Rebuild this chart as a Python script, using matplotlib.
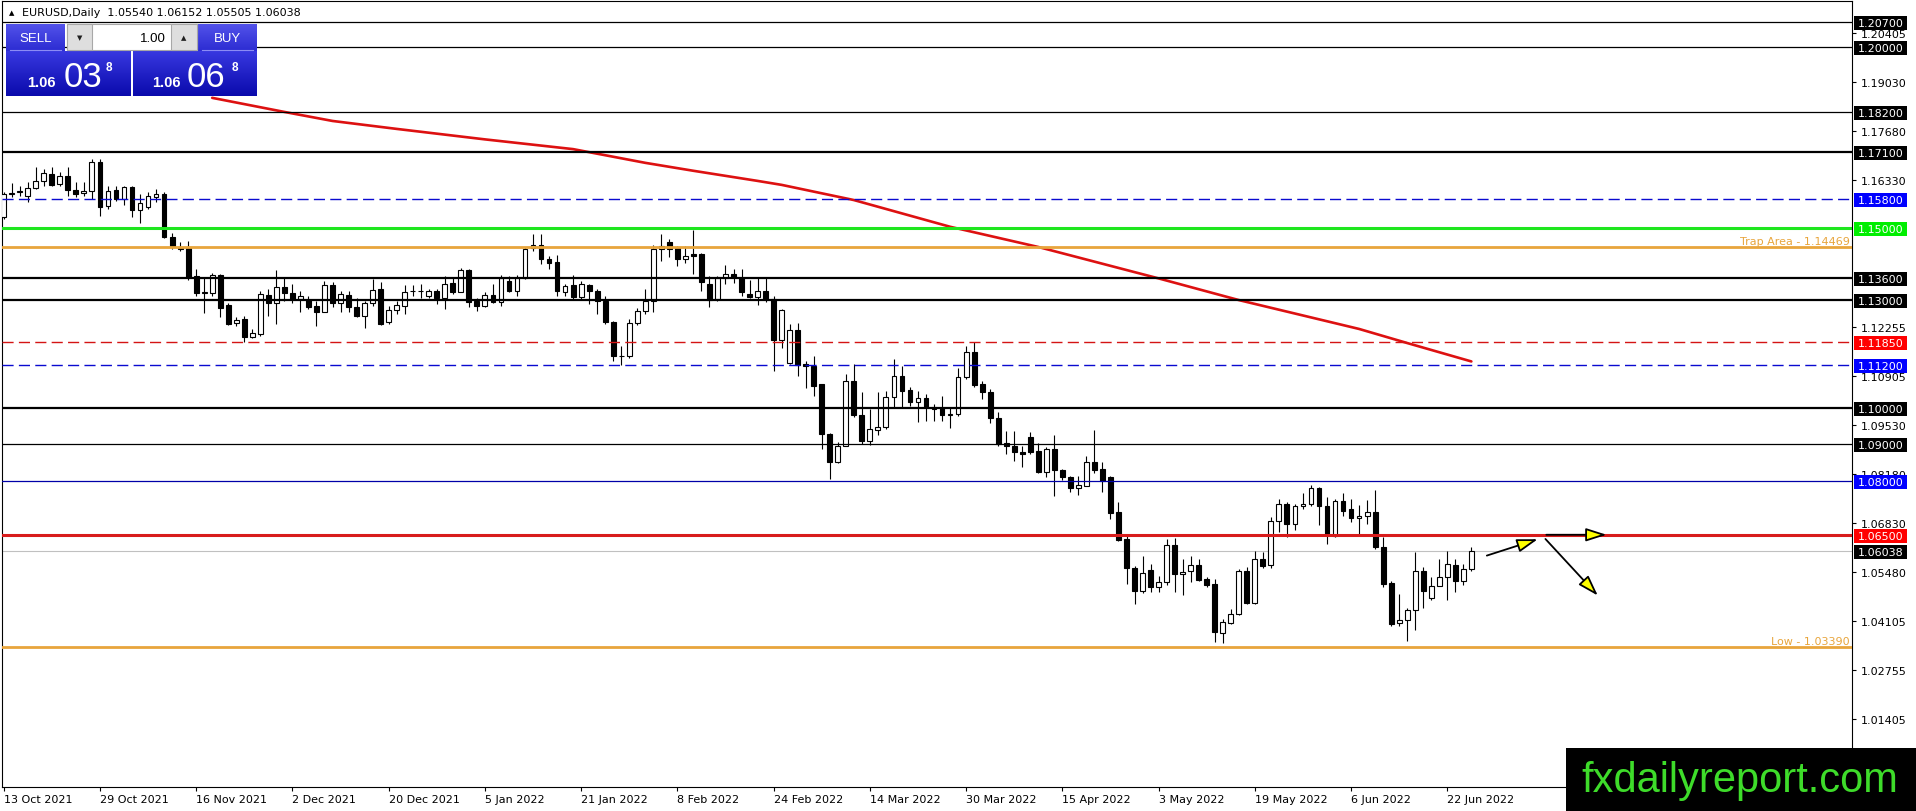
import numpy as np
import matplotlib
matplotlib.use("Agg")
import matplotlib.pyplot as plt
import matplotlib.colors as mcolors
from matplotlib.patches import Rectangle, FancyArrowPatch

# daily EURUSD candles, 13 Oct 2021 .. 27 Jun 2022
opens = [1.1529, 1.1594, 1.1598, 1.1589, 1.1609, 1.1631, 1.1649, 1.1621, 1.1643, 1.1606,
         1.1597, 1.1601, 1.1681, 1.1561, 1.1606, 1.1580, 1.1612, 1.1550, 1.1557, 1.1586,
         1.1593, 1.1476, 1.1446, 1.1446, 1.1366, 1.1320, 1.1320, 1.1369, 1.1286, 1.1236,
         1.1247, 1.1197, 1.1206, 1.1314, 1.1291, 1.1337, 1.1319, 1.1304, 1.1300, 1.1284,
         1.1268, 1.1342, 1.1292, 1.1314, 1.1282, 1.1257, 1.1292, 1.1330, 1.1240, 1.1273,
         1.1284, 1.1325, 1.1326, 1.1312, 1.1326, 1.1307, 1.1347, 1.1323, 1.1384, 1.1298,
         1.1284, 1.1314, 1.1295, 1.1353, 1.1326, 1.1362, 1.1443, 1.1452, 1.1415, 1.1406,
         1.1323, 1.1342, 1.1309, 1.1342, 1.1326, 1.1298, 1.1240, 1.1144, 1.1146, 1.1236,
         1.1270, 1.1298, 1.1441, 1.1462, 1.1443, 1.1415, 1.1427, 1.1427, 1.1345, 1.1303,
         1.1360, 1.1372, 1.1360, 1.1317, 1.1308, 1.1326, 1.1303, 1.1190, 1.1125, 1.1217,
         1.1123, 1.1118, 1.1067, 1.0929, 1.0852, 1.0897, 1.1077, 1.0982, 1.0911, 1.0941,
         1.0948, 1.1031, 1.1089, 1.1051, 1.1019, 1.1028, 1.1005, 1.1001, 1.0983, 1.0984,
         1.1086, 1.1155, 1.1067, 1.1046, 1.0973, 1.0903, 1.0895, 1.0878, 1.0920, 1.0881,
         1.0825, 1.0888, 1.0829, 1.0809, 1.0780, 1.0786, 1.0851, 1.0832, 1.0809, 1.0712,
         1.0638, 1.0557, 1.0495, 1.0552, 1.0506, 1.0518, 1.0622, 1.0541, 1.0550, 1.0566,
         1.0528, 1.0514, 1.0378, 1.0406, 1.0431, 1.0549, 1.0460, 1.0583, 1.0565, 1.0689,
         1.0735, 1.0680, 1.0729, 1.0735, 1.0779, 1.0731, 1.0647, 1.0744, 1.0721, 1.0697,
         1.0701, 1.0714, 1.0615, 1.0517, 1.0406, 1.0415, 1.0443, 1.0549, 1.0474, 1.0509,
         1.0532, 1.0565, 1.0521, 1.05540]
highs = [1.1598, 1.1624, 1.1615, 1.1626, 1.1668, 1.1663, 1.1668, 1.1654, 1.1668, 1.1626,
         1.1626, 1.1692, 1.1690, 1.1615, 1.1615, 1.1617, 1.1615, 1.1594, 1.1598, 1.1607,
         1.1598, 1.1487, 1.1460, 1.1464, 1.1386, 1.1363, 1.1375, 1.1372, 1.1292, 1.1252,
         1.1257, 1.1220, 1.1326, 1.1330, 1.1382, 1.1363, 1.1344, 1.1326, 1.1312, 1.1298,
         1.1354, 1.1349, 1.1326, 1.1326, 1.1307, 1.1298, 1.1358, 1.1349, 1.1284, 1.1298,
         1.1342, 1.1342, 1.1344, 1.1332, 1.1330, 1.1368, 1.1363, 1.1388, 1.1386, 1.1307,
         1.1321, 1.1344, 1.1369, 1.1367, 1.1369, 1.1448, 1.1483, 1.1483, 1.1423, 1.1425,
         1.1344, 1.1369, 1.1354, 1.1344, 1.1330, 1.1312, 1.1243, 1.1174, 1.1247, 1.1277,
         1.1330, 1.1452, 1.1483, 1.1469, 1.1450, 1.1450, 1.1495, 1.1430, 1.1368, 1.1366,
         1.1397, 1.1385, 1.1385, 1.1355, 1.1360, 1.1360, 1.1312, 1.1275, 1.1233, 1.1236,
         1.1130, 1.1146, 1.1067, 1.0933, 1.0906, 1.1095, 1.1123, 1.1045, 1.0998, 1.1045,
         1.1049, 1.1137, 1.1118, 1.1058, 1.1049, 1.1040, 1.1012, 1.1035, 1.1001, 1.1111,
         1.1174, 1.1185, 1.1077, 1.1054, 1.0989, 1.0938, 1.0936, 1.0897, 1.0934, 1.0903,
         1.0892, 1.0925, 1.0832, 1.0814, 1.0814, 1.0869, 1.0939, 1.0851, 1.0814, 1.0740,
         1.0652, 1.0564, 1.0592, 1.0569, 1.0535, 1.0638, 1.0640, 1.0583, 1.0592, 1.0583,
         1.0532, 1.0528, 1.0417, 1.0445, 1.0555, 1.0560, 1.0606, 1.0601, 1.0698, 1.0749,
         1.0740, 1.0735, 1.0767, 1.0788, 1.0781, 1.0754, 1.0748, 1.0766, 1.0749, 1.0733,
         1.0747, 1.0773, 1.0643, 1.0523, 1.0486, 1.0447, 1.0601, 1.0560, 1.0532, 1.0583,
         1.0606, 1.0583, 1.0569, 1.06152]
lows = [1.1524, 1.1585, 1.1589, 1.1571, 1.1607, 1.1617, 1.1617, 1.1617, 1.1589, 1.1585,
        1.1589, 1.1580, 1.1534, 1.1552, 1.1575, 1.1563, 1.1529, 1.1513, 1.1552, 1.1571,
        1.1471, 1.1441, 1.1437, 1.1356, 1.1312, 1.1264, 1.1312, 1.1252, 1.1231, 1.1229,
        1.1185, 1.1194, 1.1201, 1.1257, 1.1234, 1.1298, 1.1293, 1.1266, 1.1275, 1.1227,
        1.1266, 1.1280, 1.1266, 1.1266, 1.1252, 1.1222, 1.1284, 1.1231, 1.1234, 1.1261,
        1.1261, 1.1312, 1.1307, 1.1307, 1.1289, 1.1275, 1.1317, 1.1321, 1.1280, 1.1271,
        1.1280, 1.1292, 1.1284, 1.1321, 1.1312, 1.1358, 1.1437, 1.1400, 1.1386, 1.1312,
        1.1312, 1.1303, 1.1303, 1.1289, 1.1261, 1.1234, 1.1132, 1.1120, 1.1139, 1.1231,
        1.1261, 1.1266, 1.1409, 1.1418, 1.1395, 1.1403, 1.1372, 1.1326, 1.1280, 1.1298,
        1.1344, 1.1346, 1.1310, 1.1305, 1.1285, 1.1296, 1.1104, 1.1166, 1.1122, 1.1089,
        1.1057, 1.1035, 1.0888, 1.0805, 1.0849, 1.0895, 1.0975, 1.0902, 1.0899, 1.0925,
        1.0943, 1.1003, 1.1003, 1.1008, 1.0961, 1.0966, 1.0966, 1.0966, 1.0945, 1.0980,
        1.1081, 1.1058, 1.1026, 1.0959, 1.0897, 1.0874, 1.0855, 1.0837, 1.0874, 1.0821,
        1.0809, 1.0757, 1.0803, 1.0769, 1.0760, 1.0784, 1.0821, 1.0769, 1.0695, 1.0634,
        1.0514, 1.0458, 1.0489, 1.0491, 1.0491, 1.0511, 1.0491, 1.0482, 1.0518, 1.0523,
        1.0505, 1.0354, 1.0349, 1.0402, 1.0428, 1.0458, 1.0458, 1.0557, 1.0557, 1.0657,
        1.0643, 1.0662, 1.0721, 1.0731, 1.0677, 1.0625, 1.0643, 1.0703, 1.0686, 1.0652,
        1.0680, 1.0611, 1.0504, 1.0398, 1.0397, 1.0357, 1.0385, 1.0446, 1.0470, 1.0507,
        1.0468, 1.0492, 1.0511, 1.05505]
closes = [1.1594, 1.1597, 1.1601, 1.1609, 1.1631, 1.1651, 1.1619, 1.1644, 1.1606, 1.1595,
          1.1601, 1.1681, 1.1559, 1.1603, 1.1580, 1.1612, 1.1550, 1.1569, 1.1587, 1.1593,
          1.1475, 1.1450, 1.1441, 1.1363, 1.1320, 1.1321, 1.1369, 1.1277, 1.1235, 1.1245,
          1.1197, 1.1209, 1.1317, 1.1291, 1.1335, 1.1319, 1.1304, 1.1312, 1.1282, 1.1268,
          1.1342, 1.1292, 1.1316, 1.1282, 1.1257, 1.1292, 1.1329, 1.1234, 1.1273, 1.1286,
          1.1323, 1.1326, 1.1325, 1.1326, 1.1307, 1.1345, 1.1323, 1.1384, 1.1295, 1.1284,
          1.1314, 1.1295, 1.1362, 1.1326, 1.1362, 1.1441, 1.1452, 1.1415, 1.1404, 1.1326,
          1.1340, 1.1309, 1.1344, 1.1326, 1.1298, 1.1238, 1.1144, 1.1146, 1.1236, 1.1270,
          1.1298, 1.1441, 1.1450, 1.1441, 1.1415, 1.1423, 1.1423, 1.1349, 1.1301, 1.1360,
          1.1372, 1.1363, 1.1321, 1.1308, 1.1326, 1.1303, 1.1190, 1.1272, 1.1217, 1.1121,
          1.1117, 1.1063, 1.0929, 1.0852, 1.0897, 1.1077, 1.0982, 1.0911, 1.0943, 1.0948,
          1.1031, 1.1089, 1.1049, 1.1019, 1.1028, 1.1003, 1.0998, 1.0982, 1.0984, 1.1086,
          1.1155, 1.1065, 1.1046, 1.0973, 1.0901, 1.0895, 1.0878, 1.0874, 1.0880, 1.0825,
          1.0888, 1.0828, 1.0811, 1.0780, 1.0788, 1.0851, 1.0830, 1.0800, 1.0709, 1.0636,
          1.0557, 1.0495, 1.0543, 1.0506, 1.0518, 1.0622, 1.0541, 1.0548, 1.0566, 1.0526,
          1.0511, 1.0380, 1.0408, 1.0431, 1.0549, 1.0460, 1.0583, 1.0563, 1.0689, 1.0735,
          1.0680, 1.0729, 1.0735, 1.0779, 1.0731, 1.0649, 1.0744, 1.0717, 1.0696, 1.0703,
          1.0714, 1.0615, 1.0514, 1.0403, 1.0415, 1.0443, 1.0549, 1.0493, 1.0509, 1.0532,
          1.0569, 1.0521, 1.0555, 1.06038]

# moving average (red curve), sampled along the bars
ma_idx = [26, 35, 41, 49, 60, 71, 80, 86, 94, 97, 106, 112, 118, 129, 144, 154, 169, 175, 183]
ma_val = [1.1860, 1.1821, 1.1796, 1.1774, 1.1745, 1.1718, 1.1680, 1.1658, 1.1630, 1.1619,
          1.1577, 1.1540, 1.1503, 1.1447, 1.1360, 1.1300, 1.1220, 1.1181, 1.1130]

date_pos = [0, 12, 24, 36, 48, 60, 72, 84, 96, 108, 120, 132, 144, 156, 168, 180]
date_labels = ['13 Oct 2021', '29 Oct 2021', '16 Nov 2021', '2 Dec 2021', '20 Dec 2021',
               '5 Jan 2022', '21 Jan 2022', '8 Feb 2022', '24 Feb 2022', '14 Mar 2022',
               '30 Mar 2022', '15 Apr 2022', '3 May 2022', '19 May 2022', '6 Jun 2022',
               '22 Jun 2022']

price_ticks = [1.20405, 1.19030, 1.17680, 1.16330, 1.12255, 1.10905, 1.09530,
               1.08180, 1.06830, 1.05480, 1.04105, 1.02755, 1.01405]

# horizontal levels
levels = [1.20700, 1.20000, 1.18200, 1.17100, 1.15800, 1.15000, 1.13600,
          1.13000, 1.11850, 1.11200, 1.10000, 1.09000, 1.08000, 1.06500]
level_colors = ['black', 'black', 'black', 'black', '#0a0ad0', '#1ee61e', 'black',
                'black', '#d41414', '#0a0ad0', 'black', 'black', '#0000a8', '#d81c1c']
level_widths = [0.9, 0.9, 0.9, 1.6, 1.0, 2.2, 1.6, 1.6, 1.0, 1.0, 1.6, 0.9, 0.9, 2.2]
level_dashed = [False, False, False, False, True, False, False, False, True, True,
                False, False, False, False]
box_colors = ['black', 'black', 'black', 'black', '#0000ff', '#00ee00', 'black',
              'black', '#ff0000', '#0000ff', 'black', 'black', '#0000ff', '#ff0000']

bid = 1.06038
trap = 1.14469
low_level = 1.03390
orange = '#e8a53c'

# analyst arrows (bar index, price)
arrows = [((184.6, 1.0590), (191.6, 1.0640)),
          ((192.0, 1.0650), (200.2, 1.0650)),
          ((192.0, 1.0644), (199.0, 1.0476))]

W, H = 1916, 812
fig = plt.figure(figsize=(W / 100, H / 100), dpi=100)
fig.patch.set_facecolor('white')
ax = fig.add_axes([2 / W, 24 / H, 1850 / W, 786 / H])
ax.set_facecolor('white')

idx = np.arange(len(opens))
o = np.array(opens); hi = np.array(highs); lo = np.array(lows); c = np.array(closes)
up = c >= o
ax.vlines(idx, lo, hi, color='black', lw=0.8, zorder=3)
ax.bar(idx[up], (c - o)[up], bottom=o[up], width=0.6, color='white',
       edgecolor='black', lw=0.8, zorder=4)
ax.bar(idx[~up], (o - c)[~up], bottom=c[~up], width=0.6, color='black',
       edgecolor='black', lw=0.8, zorder=4)

ax.plot(ma_idx, ma_val, color='#dd1111', lw=1.9, zorder=5, solid_capstyle='round',
        solid_joinstyle='round')

for lev, col, lw, dsh in zip(levels, level_colors, level_widths, level_dashed):
    if dsh:
        ax.axhline(lev, color=col, lw=lw, dashes=(8, 3.8), zorder=6)
    else:
        ax.axhline(lev, color=col, lw=lw, zorder=6)
ax.axhline(trap, color=orange, lw=2.0, zorder=6)
ax.axhline(low_level, color=orange, lw=2.0, zorder=6)
ax.axhline(bid, color='#c0c0c0', lw=0.8, zorder=2)

for (x0, y0), (x1, y1) in arrows:
    ar = FancyArrowPatch((x0, y0), (x1, y1), arrowstyle='-|>,head_length=1.4,head_width=0.45',
                         mutation_scale=9, fc='#ffff00', ec='black', lw=1.3, zorder=8)
    ax.add_patch(ar)

ymin, ymax = 0.99515, 1.21282
ax.set_xlim(-0.21, 230.46)
ax.set_ylim(ymin, ymax)

ax.text(1.0 - 2 / 1850, trap + 0.0003, 'Trap Area - 1.14469', transform=ax.get_yaxis_transform(),
        ha='right', va='bottom', fontsize=8, color=orange, zorder=7)
ax.text(1.0 - 2 / 1850, low_level + 0.0003, 'Low - 1.03390', transform=ax.get_yaxis_transform(),
        ha='right', va='bottom', fontsize=8, color=orange, zorder=7)

ax.yaxis.tick_right()
ax.set_yticks(price_ticks)
ax.set_yticklabels(['%.5f' % v for v in price_ticks])
ax.tick_params(axis='y', length=3, width=0.8, pad=3, labelsize=8, colors='black')
ax.set_xticks(date_pos)
ax.set_xticklabels(date_labels)
ax.tick_params(axis='x', length=3, width=0.8, pad=2, labelsize=8)
for lbl in ax.get_xticklabels():
    lbl.set_ha('left')
for sp in ax.spines.values():
    sp.set_linewidth(0.8)
    sp.set_color('black')

# boxed price labels on the right scale
ppu = 786 / (ymax - ymin)
bh = 14 / ppu
tr = ax.get_yaxis_transform()
for lev, bc in list(zip(levels, box_colors)) + [(bid, 'black')]:
    yc = lev - 1 / ppu
    ax.add_patch(Rectangle((1 + 2 / 1850, yc - bh / 2), 53 / 1850, bh, transform=tr,
                           fc=bc, ec='none', clip_on=False, zorder=9))
    ax.text(1 + 28.5 / 1850, yc, '%.5f' % lev, transform=tr, ha='center', va='center',
            fontsize=8, color='white', zorder=10, clip_on=False)

# header
ax.text(7 / 1850, 1 - 11 / 786, '\u25b2', transform=ax.transAxes, fontsize=5,
        va='center', ha='left', color='black')
ax.text(20 / 1850, 1 - 11 / 786, 'EURUSD,Daily  1.05540 1.06152 1.05505 1.06038',
        transform=ax.transAxes, fontsize=8, va='center', ha='left', color='black')

# overlay in pixel coordinates for the trade panel and watermark
ov = fig.add_axes([0, 0, 1, 1], zorder=5)
ov.patch.set_alpha(0)
ov.axis('off')


def grad_box(x0, y0, x1, y1, c_top, c_bot):
    t = np.linspace(0, 1, 64)[:, None]
    img = np.array(mcolors.to_rgb(c_top)) * (1 - t) + np.array(mcolors.to_rgb(c_bot)) * t
    ov.imshow(img[:, None, :], extent=(x0, x1, y1, y0), origin='upper', aspect='auto',
              interpolation='bilinear', zorder=2)


grad_box(6, 25, 65, 52, '#5252ea', '#2c2cd2')
grad_box(198, 25, 257, 52, '#5252ea', '#2c2cd2')
grad_box(6, 52, 131, 97, '#3838e0', '#0a0aac')
grad_box(133, 52, 257, 97, '#3838e0', '#0a0aac')
ov.plot([10, 61], [51, 51], color='#8c8cf5', lw=0.8, zorder=3)
ov.plot([202, 253], [51, 51], color='#8c8cf5', lw=0.8, zorder=3)
ov.add_patch(Rectangle((67, 25), 130, 26, fc='white', ec='#a8a8a8', lw=0.8, zorder=2))
ov.add_patch(Rectangle((67, 25), 25, 26, fc='#dedede', ec='#a8a8a8', lw=0.8, zorder=3))
ov.add_patch(Rectangle((171, 25), 26, 26, fc='#dedede', ec='#a8a8a8', lw=0.8, zorder=3))
ov.text(79.5, 38, '\u25bc', fontsize=5, ha='center', va='center', color='#202020', zorder=4)
ov.text(184, 38, '\u25b2', fontsize=5, ha='center', va='center', color='#202020', zorder=4)
ov.text(166, 38.5, '1.00', fontsize=9.5, ha='right', va='center', color='black',
        family='Liberation Sans', zorder=4)
ov.text(35.5, 38.5, 'SELL', fontsize=9.5, ha='center', va='center', color='white',
        family='Liberation Sans', zorder=4)
ov.text(227.5, 38.5, 'BUY', fontsize=9.5, ha='center', va='center', color='white',
        family='Liberation Sans', zorder=4)
for x_small, x_big, x_sup, big in [(27, 64, 106, '03'), (152, 187, 232, '06')]:
    ov.text(x_small, 87, '1.06', fontsize=10.5, fontweight='bold', ha='left', va='baseline',
            color='white', family='Liberation Sans', zorder=4)
    ov.text(x_big, 87, big, fontsize=25, ha='left', va='baseline', color='white',
            family='Liberation Sans', zorder=4)
    ov.text(x_sup, 71, '8', fontsize=8.5, fontweight='bold', ha='left', va='baseline',
            color='white', family='Liberation Sans', zorder=4)

ov.add_patch(Rectangle((1566, 749), 350, 63, fc='black', ec='none', zorder=5))
ov.text(1581, 781, 'fxdailyreport.com', fontsize=30, ha='left', va='center',
        color='#3edc2a', family='Liberation Sans', zorder=6)

ov.set_xlim(0, W)
ov.set_ylim(H, 0)

fig.savefig('out.png', dpi=100, facecolor='white')
